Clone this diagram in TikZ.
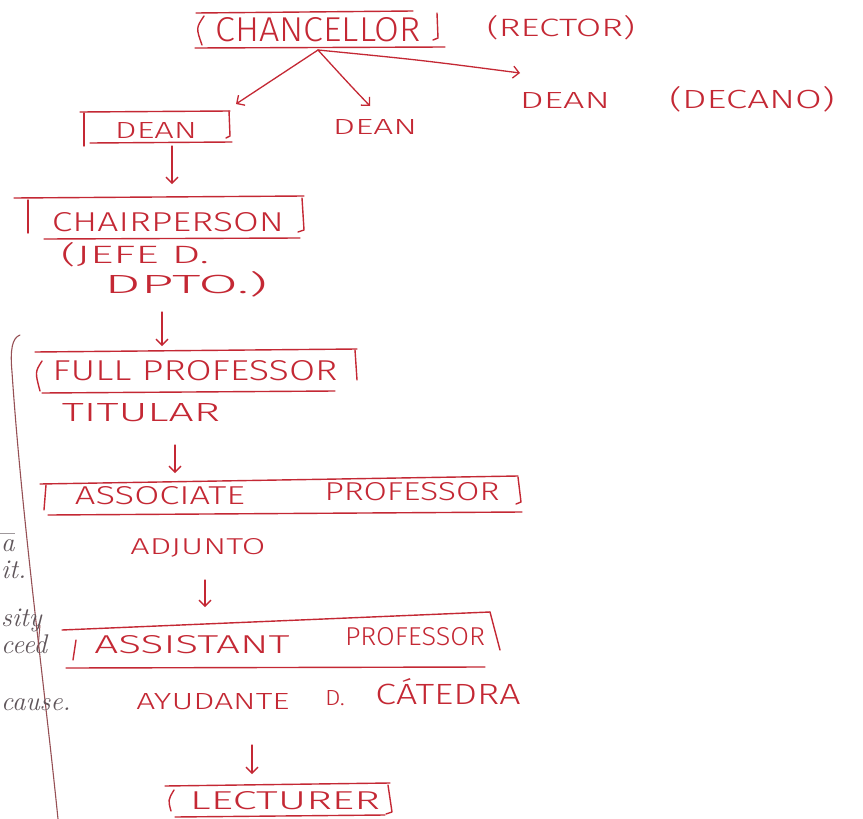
\documentclass[tikz,border=0pt]{standalone}
\usepackage{fontspec}
\usetikzlibrary{arrows.meta}
\newfontfamily\hand{Fira Sans Light}
\definecolor{pen}{RGB}{196,40,52}
\definecolor{marginline}{RGB}{150,80,85}
\definecolor{ink}{RGB}{95,85,90}
\newcommand{\hw}[3]{\resizebox{#1pt}{#2pt}{\hand #3}}
\tikzset{
  hwtext/.style={inner sep=0pt, text=pen},
  boxline/.style={draw=pen, line width=1.4pt, line cap=round, line join=round},
  penarrow/.style={draw=pen, line width=1.3pt, line cap=round, -{Straight Barb[length=6pt,width=12pt]}},
  fragment/.style={inner sep=0pt, text=ink, anchor=west, font=\itshape\fontsize{27}{27}\selectfont}
}
\begin{document}
\begin{tikzpicture}[x=1pt,y=-1pt]
\fill[white] (0,0) rectangle (863,819);
\useasboundingbox (0,0) rectangle (863,819);

% ---------- Chancellor
\node[hwtext] (chan) at (318,30) {\hw{205}{24}{CHANCELLOR}};
\draw[boxline] (196,13) -- (413,11);
\draw[boxline] (195,48) -- (445,47);
\draw[boxline] (204,16) .. controls (196,28) .. (202,45);
\draw[boxline] (437,13) -- (438,38) -- (433,40);
\node[hwtext] (rector) at (561,28) {\hw{148}{21}{(RECTOR)}};
\coordinate (chanb) at (318,50);

% ---------- Deans
\node[hwtext] (deanL) at (156,130) {\hw{82}{16}{DEAN}};
\draw[boxline] (80,112) -- (230,111);
\draw[boxline] (90,143) -- (232,142);
\draw[boxline] (84,113) -- (84,146);
\draw[boxline] (229,111) -- (230,136) -- (226,138);
\coordinate (deanLt) at (236,104);
\coordinate (deanLb) at (172,146);

\node[hwtext] (deanM) at (375,127) {\hw{84}{15}{DEAN}};
\coordinate (deanMt) at (370,106);

\node[hwtext] (deanR) at (565,100) {\hw{90}{16}{DEAN}};
\node[hwtext] (decano) at (752,99) {\hw{165}{22}{(DECANO)}};
\coordinate (deanRt) at (520,73);

\draw[penarrow] (chanb) -- (deanLt);
\draw[penarrow] (chanb) .. controls (350,85) .. (deanMt);
\draw[penarrow] (chanb) .. controls (420,60) .. (deanRt);

% ---------- Chairperson
\node[hwtext] (chair) at (168,222) {\hw{232}{19}{CHAIRPERSON}};
\draw[boxline] (14,198) -- (304,196);
\draw[boxline] (44,239) -- (300,238);
\draw[boxline] (28,200) -- (28,233);
\draw[boxline] (302,198) -- (304,230) -- (298,232);
\coordinate (chairt) at (172,184);
\node[hwtext] (jefe) at (135,255) {\hw{148}{21}{(JEFE D.}};
\node[hwtext] (dpto) at (186,284) {\hw{163}{22}{DPTO.)}};
\coordinate (dptob) at (162,312);
\draw[penarrow] (deanLb) -- (chairt);

% ---------- Full professor
\node[hwtext] (full) at (195,371) {\hw{285}{20}{FULL PROFESSOR}};
\draw[boxline] (35,352) -- (357,349);
\draw[boxline] (42,393) -- (335,391);
\draw[boxline] (42,361) .. controls (35,372) .. (40,391);
\draw[boxline] (355,350) -- (357,380);
\coordinate (fullt) at (162,346);
\draw[penarrow] (dptob) -- (fullt);
\node[hwtext] (titular) at (141,413) {\hw{158}{18}{TITULAR}};
\coordinate (titularb) at (175,445);

% ---------- Associate professor
\node[hwtext] (assoc1) at (160,496) {\hw{170}{18}{ASSOCIATE}};
\node[hwtext] (assoc2) at (412,492) {\hw{175}{18}{PROFESSOR}};
\draw[boxline] (40,484) -- (518,476);
\draw[boxline] (48,515) -- (522,512);
\draw[boxline] (46,485) -- (44,510);
\draw[boxline] (518,477) -- (521,502) -- (516,504);
\coordinate (assoct) at (175,473);
\draw[penarrow] (titularb) -- (assoct);
\node[hwtext] (adjunto) at (198,548) {\hw{135}{16}{ADJUNTO}};
\coordinate (adjuntob) at (205,580);

% ---------- Assistant professor
\node[hwtext] (assist1) at (192,645) {\hw{195}{18}{ASSISTANT}};
\node[hwtext] (assist2) at (415,637) {\hw{140}{18}{PROFESSOR}};
\draw[boxline] (62,630) -- (490,612);
\draw[boxline] (66,668) -- (485,667);
\draw[boxline] (76,640) -- (73,660);
\draw[boxline] (490,612) -- (500,650);
\coordinate (assistt) at (205,607);
\draw[penarrow] (adjuntob) -- (assistt);
\node[hwtext] (ayudante) at (213,702) {\hw{153}{16}{AYUDANTE}};
\node[hwtext] (de) at (335,698) {\hw{20}{15}{D.}};
\node[hwtext] (catedra) at (448,692) {\hw{145}{26}{CÁTEDRA}};
\coordinate (ayudanteb) at (252,745);

% ---------- Lecturer
\node[hwtext] (lect) at (285,801) {\hw{190}{18}{LECTURER}};
\draw[boxline] (165,786) -- (390,783);
\draw[boxline] (175,817) -- (385,815);
\draw[boxline] (174,790) .. controls (168,800) .. (171,811);
\draw[boxline] (388,785) -- (392,812) -- (386,814);
\coordinate (lectt) at (252,774);
\draw[penarrow] (ayudanteb) -- (lectt);

% ---------- margin bracket and fragments of the neighbouring page
\draw[draw=marginline, line width=1.1pt, line cap=round]
  (20,335) .. controls (12,338) and (10,350) .. (12,372)
  .. controls (22,520) and (45,690) .. (58,819);
\draw[draw=ink!60, line width=0.8pt] (0,533) -- (15,533);
\node[fragment] (f1) at (1,546) {a};
\node[fragment] (f2) at (1,570) {it.};
\node[fragment] (f3) at (1,620) {sity};
\node[fragment] (f4) at (1,644) {ceed};
\node[fragment] (f5) at (1,705) {cause.};
\draw[draw=marginline, line width=1pt] (40,625) -- (38,648);
\end{tikzpicture}
\end{document}
